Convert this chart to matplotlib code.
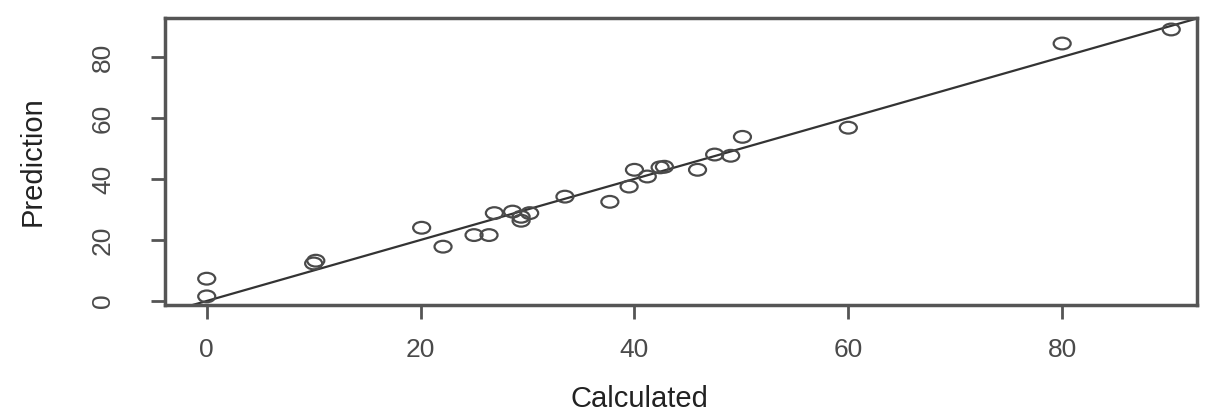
import matplotlib
matplotlib.use("Agg")
import matplotlib.pyplot as plt
from matplotlib.path import Path
from matplotlib.transforms import Affine2D

plt.rcParams['font.family'] = ['Liberation Sans', 'DejaVu Sans']

# calculated vs predicted values
calculated = [0, 0, 10, 10.2, 20.1, 22.1, 25.0, 26.4, 26.9, 28.6, 29.4, 29.4, 30.2,
              33.5, 37.7, 39.5, 40.0, 41.2, 42.4, 42.8, 45.9, 47.5, 49.0, 50.1,
              60.0, 80.0, 90.2]
prediction = [7.3, 1.5, 12.3, 13.2, 24.0, 17.8, 21.6, 21.6, 28.8, 29.3, 27.6, 26.3, 28.8,
              34.2, 32.5, 37.5, 43.0, 40.8, 43.8, 44.0, 43.0, 48.0, 47.6, 53.8,
              56.8, 84.4, 89.0]
ticks = [0, 20, 40, 60, 80]

grey = "#4a4a4a"

# slightly flattened circle marker, like the reference
ell = Path.unit_circle().transformed(Affine2D().scale(1.45, 1.0))

fig = plt.figure(figsize=(12.09, 4.16), dpi=100)
ax = fig.add_axes([0.1365, 0.267, 0.8535, 0.69])

ax.scatter(calculated, prediction, marker=ell, s=150, facecolors="none",
           edgecolors=grey, linewidths=1.6, zorder=3)
ax.axline((0, 0), slope=1, color="#333333", lw=1.6, zorder=2)

ax.set_xlim(-3.9, 92.6)
ax.set_ylim(-1.3, 92.8)
ax.set_xticks(ticks)
ax.set_yticks(ticks)
ax.set_xticklabels([str(t) for t in ticks], fontsize=19, color=grey)
ax.set_yticklabels([str(t) for t in ticks], fontsize=19, color=grey,
                   rotation=90, va="center")
ax.tick_params(axis="x", length=10, width=2, color="#555555", pad=14)
ax.tick_params(axis="y", length=10, width=2, color="#555555", pad=26)

for s in ax.spines.values():
    s.set_linewidth(2.5)
    s.set_color("#555555")

ax.set_xlabel("Calculated", fontsize=21, color="#222222")
ax.set_ylabel("Prediction", fontsize=21, color="#222222")
ax.xaxis.set_label_coords(0.46, -0.28)
ax.yaxis.set_label_coords(-0.115, 0.5)

fig.savefig("out.png", dpi=100)
